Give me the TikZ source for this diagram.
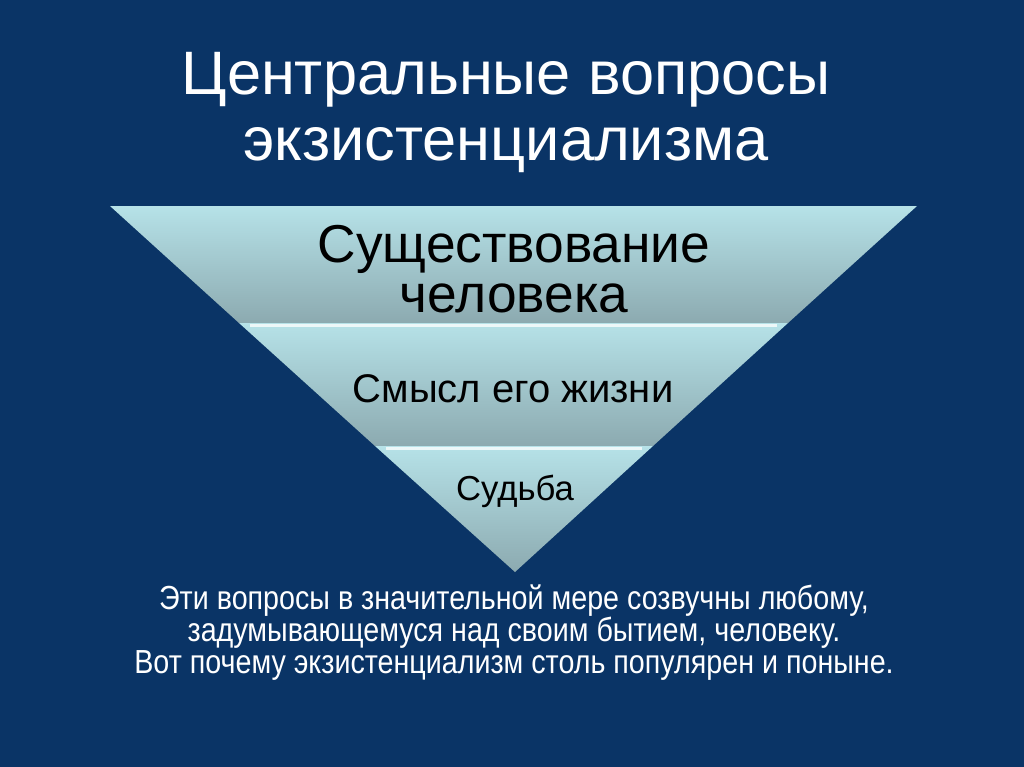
\documentclass[tikz,border=0pt]{standalone}
\usepackage{fontspec}
\setmainfont{Liberation Sans}
\newfontfamily\narrowfont{Liberation Sans}[FakeStretch=0.86]
\usetikzlibrary{positioning}

\definecolor{slideblue}{RGB}{10,52,102}
\definecolor{bandtop}{RGB}{182,226,232}
\definecolor{bandbot}{RGB}{140,170,176}

\begin{document}
\begin{tikzpicture}[x=0.75pt, y=-0.75pt]
		\tikzstyle{Band} 	= [top color=bandtop, bottom color=bandbot]
		\tikzstyle{Shine}	= [white, opacity=0.75, line width=2pt]
		\tikzstyle{Title}	= [white, align=center, font=\fontsize{46}{49}\selectfont]
		\tikzstyle{Label}	= [black, align=center]
		\tikzstyle{Note}	= [white, align=center, font=\narrowfont\fontsize{25}{24}\selectfont]

		\fill [slideblue] (0,0) rectangle (1024,767);
		\useasboundingbox (0,0) rectangle (1024,767);

		% triangle corners and band edges
		\coordinate (tl) at (110,206);
		\coordinate (tr) at (917,206);
		\coordinate (ap) at (515,572);
		\coordinate (l1) at (239,323);
		\coordinate (r1) at (788,323);
		\coordinate (l2) at (375,446);
		\coordinate (r2) at (653,446);

		\shade [Band] (tl) -- (tr) -- (r1) -- (l1) -- cycle;
		\shade [Band] (l1) -- (r1) -- (r2) -- (l2) -- cycle;
		\shade [Band] (l2) -- (r2) -- (ap) -- cycle;

		\draw [Shine] (250,325.5) -- (777,325.5);
		\draw [Shine] (386,448.5) -- (642,448.5);

		% base anchor of a multi-line node sits on its last line
		\node (title) at (506,160) [Title, anchor=base] {Центральные вопросы\\экзистенциализма};

		\node (exist) at (514,312) [Label, anchor=base, font=\fontsize{40}{37.5}\selectfont] {Существование\\человека};
		\node (sense) at (513,402) [Label, anchor=base, font=\fontsize{30}{32}\selectfont] {Смысл его жизни};
		\node (fate)  at (515,500) [Label, anchor=base, font=\fontsize{26}{28}\selectfont] {Судьба};

		\node (note) at (514,673) [Note, anchor=base] {Эти вопросы в значительной мере созвучны любому,\\задумывающемуся над своим бытием, человеку.\\Вот почему экзистенциализм столь популярен и поныне.};
	\end{tikzpicture}
\end{document}
